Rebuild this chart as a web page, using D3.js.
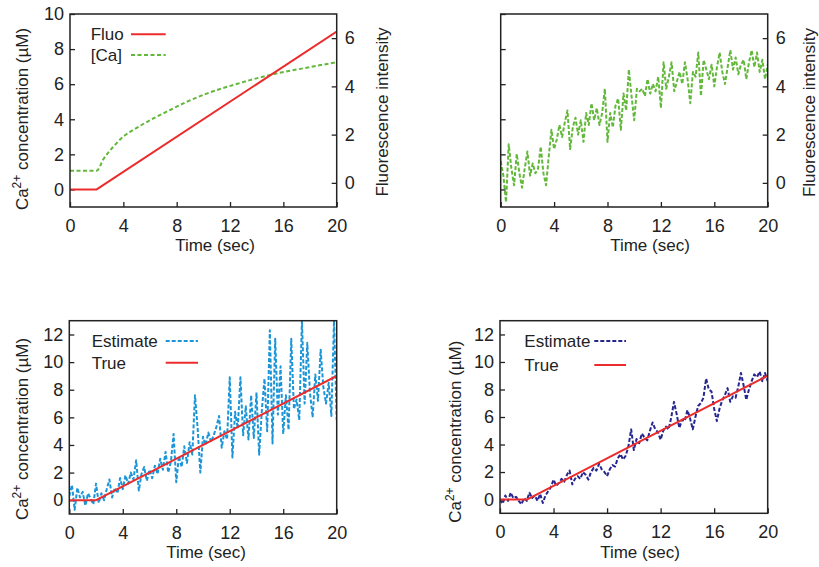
<!DOCTYPE html>
<html>
<head>
<meta charset="utf-8">
<script src="https://cdn.jsdelivr.net/npm/d3@7"></script>
<style>
  html, body { margin: 0; padding: 0; background: #fff; }
  #chart { width: 819px; height: 567px; }
</style>
</head>
<body>
<div id="chart"></div>
<script>
// ---- data ----
const sampleTimes = [
  0, 0.2, 0.4, 0.6, 0.8, 1, 1.2, 1.4, 1.6, 1.8, 2, 2.2, 2.4, 2.6, 2.8, 3, 3.2, 3.4, 3.6, 3.8,
  4, 4.2, 4.4, 4.6, 4.8, 5, 5.2, 5.4, 5.6, 5.8, 6, 6.2, 6.4, 6.6, 6.8, 7, 7.2, 7.4, 7.6, 7.8,
  8, 8.2, 8.4, 8.6, 8.8, 9, 9.2, 9.4, 9.6, 9.8, 10, 10.2, 10.4, 10.6, 10.8, 11, 11.2, 11.4, 11.6, 11.8,
  12, 12.2, 12.4, 12.6, 12.8, 13, 13.2, 13.4, 13.6, 13.8, 14, 14.2, 14.4, 14.6, 14.8, 15, 15.2, 15.4, 15.6, 15.8,
  16, 16.2, 16.4, 16.6, 16.8, 17, 17.2, 17.4, 17.6, 17.8, 18, 18.2, 18.4, 18.6, 18.8, 19, 19.2, 19.4, 19.6, 19.8, 20
];

// true calcium (top-left "Fluo" and bottom "True")
const trueTimes = [0, 2, 20];
const trueValues = [0, 0, 9];

// smooth [Ca] curve, right axis (top-left)
const caTimes = [0, 2, 2.5, 3.25, 4, 5, 6.25, 7.5, 8.75, 10.25, 12.5, 14.75, 17.5, 20];
const caValues = [0.5, 0.5, 0.98, 1.5, 1.92, 2.28, 2.67, 3.02, 3.36, 3.7, 4.1, 4.44, 4.75, 5.0];

// noisy fluorescence (top-right)
const noisyFluo = [
  0.9, 0.3, -0.8, 1.6, 0.6, -0.1, 1.2, 0.4, -0.2, 0.6, 1.3, 0.3, 0.8, 0.4, 0.6, 1.5, 0.4, -0.1, 1.1, 2.2,
  1.4, 1.8, 2.4, 1.9, 2.5, 3.0, 1.4, 2.3, 2.7, 2.0, 2.6, 1.7, 2.9, 2.4, 3.3, 2.6, 3.1, 2.4, 2.9, 3.9,
  1.7, 2.9, 2.3, 3.2, 3.5, 2.2, 3.7, 3.0, 4.7, 3.6, 2.6, 3.9, 3.8, 3.9, 3.6, 4.3, 3.7, 4.1, 3.8, 4.4,
  3.1, 5.0, 3.9, 4.4, 5.0, 3.8, 4.2, 4.6, 4.1, 5.0, 4.3, 3.3, 4.6, 4.4, 5.4, 3.6, 5.1, 4.7, 4.3, 4.9,
  4.0, 4.8, 5.4, 4.6, 4.1, 4.8, 5.5, 4.7, 5.2, 4.5, 4.9, 5.1, 4.3, 5.0, 5.5, 4.8, 5.4, 4.6, 5.1, 4.3, 4.9
];

// estimate, bottom-left
const estimateA = [
  0.3, 1.1, -0.7, 0.9, 0.2, 0.6, -0.4, 0.5, 0.1, -0.3, 1.2, -0.2, 0.5, 0.0, 0.8, 1.5, 0.2, 0.9, 0.5, 1.6,
  0.8, 1.8, 1.2, 2.0, 1.5, 2.9, 0.7, 1.9, 2.4, 1.4, 2.2, 1.6, 2.5, 1.9, 3.0, 2.2, 3.5, 2.0, 2.8, 4.8,
  1.3, 3.2, 2.4, 3.9, 2.7, 4.2, 3.3, 7.6, 5.2, 2.0, 4.6, 4.0, 4.9, 4.2, 4.7, 5.3, 6.1, 3.8, 5.0, 4.4,
  8.9, 3.1, 6.4, 5.2, 8.9, 4.7, 6.8, 4.4, 7.6, 4.5, 7.8, 3.3, 6.5, 8.8, 5.0, 12.3, 4.1, 11.7, 6.2, 9.7,
  4.8, 7.6, 5.1, 11.7, 6.6, 7.3, 5.8, 13.0, 7.0, 11.4, 7.8, 6.0, 9.1, 7.2, 10.9, 8.2, 7.0, 8.5, 6.1, 13.0, 5.8
];

// estimate, bottom-right
const estimateB = [
  0.0, -0.3, 0.3, -0.1, 0.5, 0.1, 0.2, -0.1, -0.35, 0.1, -0.1, 0.5, 0.1, 0.3, -0.1, 0.4, -0.25, 0.3, 0.6, 0.9,
  1.45, 1.0, 1.2, 1.5, 1.3, 1.8, 2.1, 1.1, 1.5, 1.7, 1.5, 2.0, 1.8, 1.45, 2.0, 2.3, 2.1, 2.6, 2.2, 2.0,
  1.7, 2.2, 2.5, 2.4, 3.0, 3.3, 2.9, 3.2, 3.9, 5.1, 3.6, 4.4, 4.1, 4.8, 4.5, 4.3, 5.0, 5.6, 5.1, 4.9,
  4.35, 5.0, 5.3, 5.1, 6.0, 7.1, 6.2, 5.2, 5.8, 5.7, 6.5, 5.9, 5.1, 6.0, 6.8, 7.0, 7.4, 8.8, 8.0, 7.85,
  6.6, 5.7, 6.6, 7.2, 7.6, 8.1, 7.1, 7.5, 7.4, 8.2, 9.2, 8.3, 7.25, 8.0, 8.6, 9.1, 8.9, 9.3, 8.6, 9.2, 8.6
];

const timeTicks = [0, 4, 8, 12, 16, 20];
const caTicksTop = [0, 2, 4, 6, 8, 10];
const caTicksBottom = [0, 2, 4, 6, 8, 10, 12];
const fluoTicks = [0, 2, 4, 6];

// ---- style ----
const RED = '#ec2c2c';
const GREEN = '#62b83a';
const BLUE = '#1b95d8';
const NAVY = '#26268e';
const INK = '#222';
const FONT = '"Liberation Sans", Arial, sans-serif';

const svg = d3.select('#chart')
  .append('svg')
  .attr('width', 819)
  .attr('height', 567)
  .style('font-family', FONT)
  .style('display', 'block');

const zip = (ts, vs) => ts.map((t, i) => ({ t: t, v: vs[i] }));

let clipId = 0;

function drawPanel(p) {
  const x = d3.scaleLinear().domain([0, 20]).range([p.left, p.right]);
  const yL = d3.scaleLinear().domain(p.leftDomain).range([p.bottom, p.top]);
  const yR = p.rightDomain ? d3.scaleLinear().domain(p.rightDomain).range([p.bottom, p.top]) : null;

  const g = svg.append('g');

  // clip for the series
  const id = 'clip' + (clipId++);
  svg.append('clipPath').attr('id', id)
    .append('rect')
    .attr('x', p.left).attr('y', p.top)
    .attr('width', p.right - p.left).attr('height', p.bottom - p.top);

  // axes, ticks pointing inward
  const xAxis = g.append('g')
    .attr('transform', `translate(0,${p.bottom})`)
    .call(d3.axisBottom(x).tickValues(timeTicks).tickSize(-5).tickPadding(12));

  const leftAxis = g.append('g')
    .attr('transform', `translate(${p.left},0)`)
    .call(d3.axisLeft(yL).tickValues(p.leftTicks).tickSize(-5).tickPadding(6)
      .tickFormat(p.leftLabels ? d3.format('d') : () => ''));

  const axes = [xAxis, leftAxis];
  if (yR) {
    axes.push(g.append('g')
      .attr('transform', `translate(${p.right},0)`)
      .call(d3.axisRight(yR).tickValues(fluoTicks).tickSize(-5).tickPadding(8)));
  }
  axes.forEach(a => {
    a.select('.domain').remove();
    a.selectAll('.tick line').attr('stroke', INK).attr('stroke-width', 1.3);
    a.selectAll('.tick text').attr('fill', INK).style('font-size', '18px').style('font-family', FONT);
  });

  // series
  const series = g.append('g').attr('clip-path', `url(#${id})`);
  p.series.forEach(s => {
    const y = s.axis === 'right' ? yR : yL;
    const line = d3.line().x(d => x(d.t)).y(d => y(d.v));
    if (s.smooth) line.curve(d3.curveMonotoneX);
    series.append('path')
      .datum(s.data)
      .attr('fill', 'none')
      .attr('stroke', s.color)
      .attr('stroke-width', s.width || 2)
      .attr('stroke-dasharray', s.dash || null)
      .attr('stroke-linejoin', 'round')
      .attr('d', line);
  });

  // frame
  g.append('rect')
    .attr('x', p.left).attr('y', p.top)
    .attr('width', p.right - p.left).attr('height', p.bottom - p.top)
    .attr('fill', 'none').attr('stroke', INK).attr('stroke-width', 1.5);

  // x title
  g.append('text')
    .attr('x', p.xTitle[0]).attr('y', p.xTitle[1])
    .attr('text-anchor', 'middle')
    .attr('fill', INK)
    .style('font-size', '17px')
    .text('Time (sec)');

  // left title with superscript
  if (p.leftTitle) {
    const t = g.append('text')
      .attr('transform', `translate(${p.leftTitle[0]},${p.leftTitle[1]}) rotate(-90)`)
      .attr('text-anchor', 'middle')
      .attr('fill', INK)
      .style('font-size', '17px');
    t.append('tspan').text('Ca');
    t.append('tspan').attr('dy', -7).style('font-size', '12px').text('2+');
    t.append('tspan').attr('dy', 7).text(' concentration (µM)');
  }

  if (p.rightTitle) {
    g.append('text')
      .attr('transform', `translate(${p.rightTitle[0]},${p.rightTitle[1]}) rotate(-90)`)
      .attr('text-anchor', 'middle')
      .attr('fill', INK)
      .style('font-size', '17px')
      .text('Fluorescence intensity');
  }

  // legend
  if (p.legend) {
    p.legend.forEach(l => {
      g.append('text')
        .attr('x', l.textX).attr('y', l.y + 6)
        .attr('fill', INK)
        .style('font-size', '17px')
        .text(l.label);
      g.append('line')
        .attr('x1', l.x1).attr('x2', l.x2)
        .attr('y1', l.y).attr('y2', l.y)
        .attr('stroke', l.color)
        .attr('stroke-width', 2)
        .attr('stroke-dasharray', l.dash || null);
    });
  }
}

// top-left
drawPanel({
  left: 70, right: 336.7, top: 14, bottom: 207,
  leftDomain: [-1, 10], rightDomain: [-1, 7],
  leftTicks: caTicksTop, leftLabels: true,
  xTitle: [215, 251], leftTitle: [28, 119], rightTitle: [388, 112],
  series: [
    { data: zip(caTimes, caValues), axis: 'right', color: GREEN, dash: '4,2.5', smooth: true },
    { data: zip(trueTimes, trueValues), axis: 'left', color: RED }
  ],
  legend: [
    { label: 'Fluo', textX: 90.7, x1: 131, x2: 165.7, y: 34.3, color: RED },
    { label: '[Ca]', textX: 90.7, x1: 131, x2: 165.7, y: 55, color: GREEN, dash: '4,2.5' }
  ]
});

// top-right
drawPanel({
  left: 500.7, right: 767.7, top: 14, bottom: 207,
  leftDomain: [-1, 10], rightDomain: [-1, 7],
  leftTicks: caTicksTop, leftLabels: false,
  xTitle: [650, 251], rightTitle: [815, 112.5],
  series: [
    { data: zip(sampleTimes, noisyFluo), axis: 'right', color: GREEN, dash: '4,2' }
  ]
});

// bottom-left
drawPanel({
  left: 69.3, right: 336.7, top: 320.7, bottom: 514,
  leftDomain: [-1, 13],
  leftTicks: caTicksBottom, leftLabels: true,
  xTitle: [206, 558], leftTitle: [28, 429],
  series: [
    { data: zip(sampleTimes, estimateA), axis: 'left', color: BLUE, dash: '4,2' },
    { data: zip(trueTimes, trueValues), axis: 'left', color: RED }
  ],
  legend: [
    { label: 'Estimate', textX: 91.7, x1: 165.7, x2: 198, y: 341, color: BLUE, dash: '4,2' },
    { label: 'True', textX: 91.7, x1: 165.7, x2: 198, y: 362.7, color: RED }
  ]
});

// bottom-right
drawPanel({
  left: 500, right: 767.7, top: 320.7, bottom: 513.3,
  leftDomain: [-1, 13],
  leftTicks: caTicksBottom, leftLabels: true,
  xTitle: [640, 558], leftTitle: [461, 431.7],
  series: [
    { data: zip(sampleTimes, estimateB), axis: 'left', color: NAVY, dash: '4,2' },
    { data: zip(trueTimes, trueValues), axis: 'left', color: RED }
  ],
  legend: [
    { label: 'Estimate', textX: 524.3, x1: 594.3, x2: 626, y: 341, color: NAVY, dash: '4,2' },
    { label: 'True', textX: 524.3, x1: 594.3, x2: 626, y: 365, color: RED }
  ]
});
</script>
</body>
</html>
